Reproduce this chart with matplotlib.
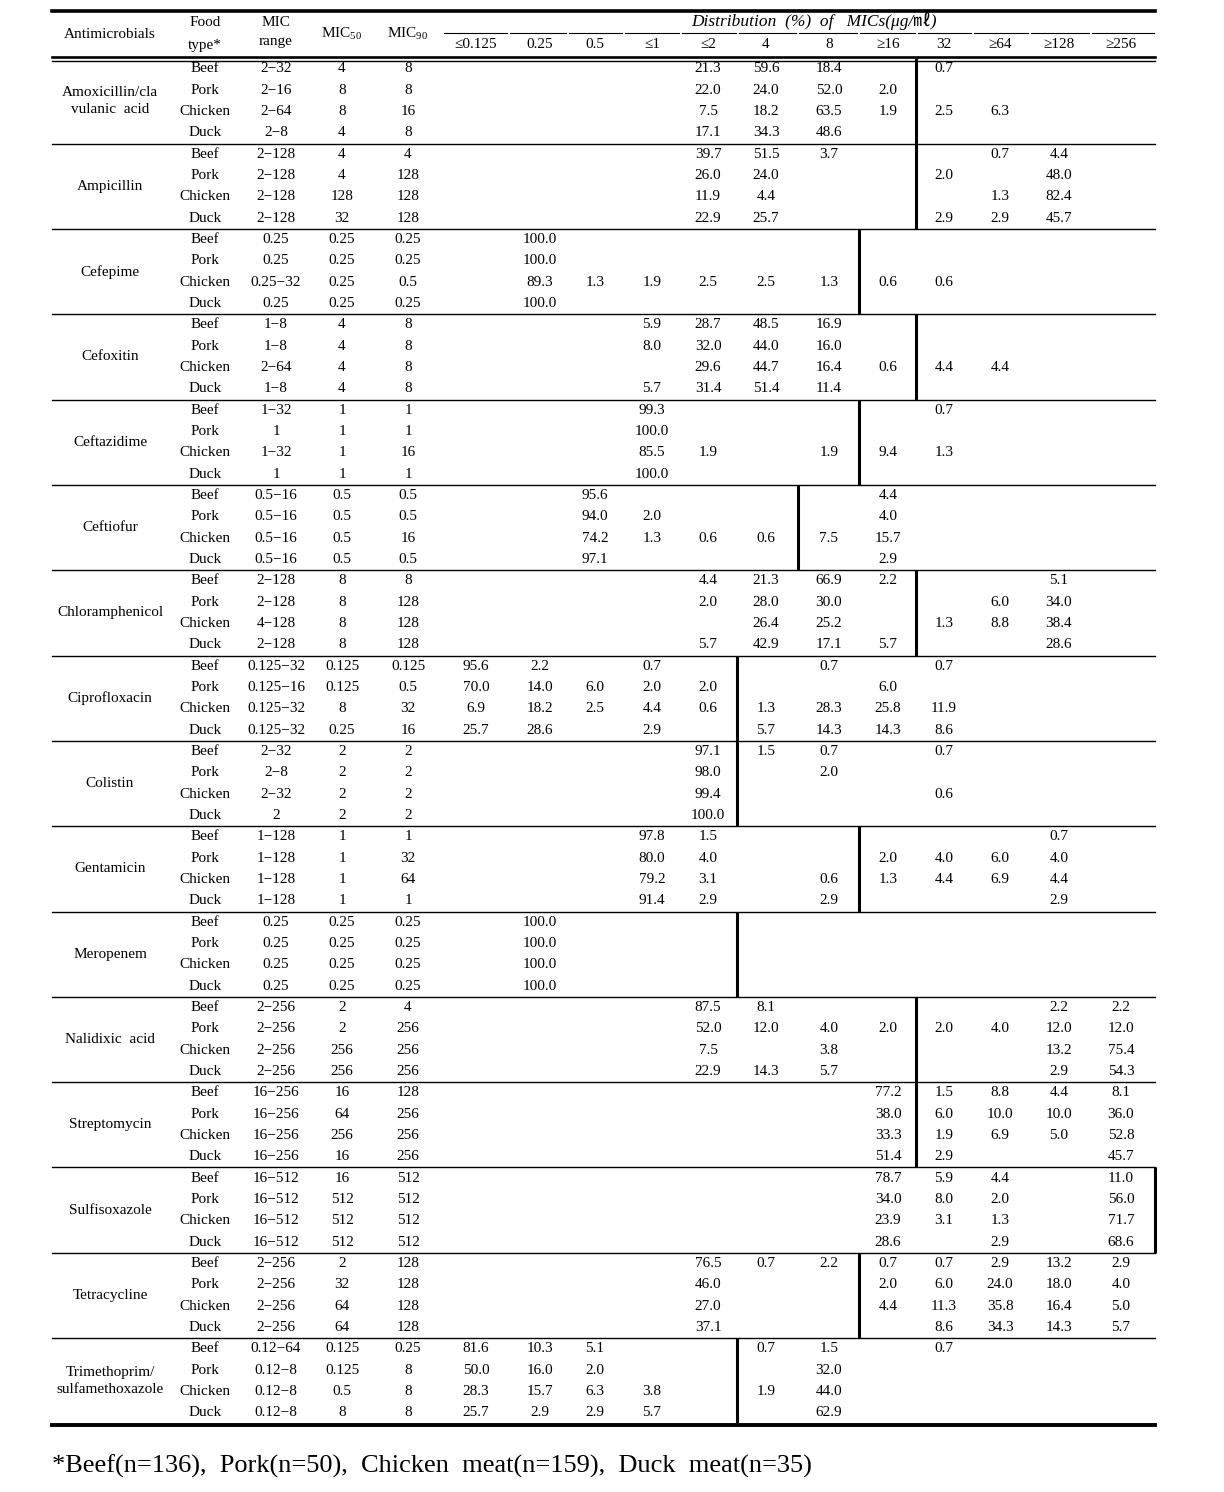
import matplotlib
matplotlib.use("Agg")
import matplotlib.pyplot as plt

plt.rcParams['font.family'] = ['Liberation Serif', 'DejaVu Serif', 'Noto Sans CJK KR']
plt.rcParams['mathtext.fontset'] = 'custom'
plt.rcParams['mathtext.rm'] = 'Liberation Serif'

# ---- data ----
dist_cols = ['≤0.125', '0.25', '0.5', '≤1', '≤2', '4', '8', '≥16', '32', '≥64', '≥128', '≥256']
foods = ['Beef', 'Pork', 'Chicken', 'Duck']

drugs = ['Amoxicillin/cla\nvulanic  acid', 'Ampicillin', 'Cefepime', 'Cefoxitin', 'Ceftazidime',
         'Ceftiofur', 'Chloramphenicol', 'Ciprofloxacin', 'Colistin', 'Gentamicin', 'Meropenem',
         'Nalidixic  acid', 'Streptomycin', 'Sulfisoxazole', 'Tetracycline',
         'Trimethoprim/\nsulfamethoxazole']

mic_range = [
    ['2−32', '2−16', '2−64', '2−8'],
    ['2−128', '2−128', '2−128', '2−128'],
    ['0.25', '0.25', '0.25−32', '0.25'],
    ['1−8', '1−8', '2−64', '1−8'],
    ['1−32', '1', '1−32', '1'],
    ['0.5−16', '0.5−16', '0.5−16', '0.5−16'],
    ['2−128', '2−128', '4−128', '2−128'],
    ['0.125−32', '0.125−16', '0.125−32', '0.125−32'],
    ['2−32', '2−8', '2−32', '2'],
    ['1−128', '1−128', '1−128', '1−128'],
    ['0.25', '0.25', '0.25', '0.25'],
    ['2−256', '2−256', '2−256', '2−256'],
    ['16−256', '16−256', '16−256', '16−256'],
    ['16−512', '16−512', '16−512', '16−512'],
    ['2−256', '2−256', '2−256', '2−256'],
    ['0.12−64', '0.12−8', '0.12−8', '0.12−8'],
]
mic50 = [
    ['4', '8', '8', '4'], ['4', '4', '128', '32'], ['0.25', '0.25', '0.25', '0.25'],
    ['4', '4', '4', '4'], ['1', '1', '1', '1'], ['0.5', '0.5', '0.5', '0.5'],
    ['8', '8', '8', '8'], ['0.125', '0.125', '8', '0.25'], ['2', '2', '2', '2'],
    ['1', '1', '1', '1'], ['0.25', '0.25', '0.25', '0.25'], ['2', '2', '256', '256'],
    ['16', '64', '256', '16'], ['16', '512', '512', '512'], ['2', '32', '64', '64'],
    ['0.125', '0.125', '0.5', '8'],
]
mic90 = [
    ['8', '8', '16', '8'], ['4', '128', '128', '128'], ['0.25', '0.25', '0.5', '0.25'],
    ['8', '8', '8', '8'], ['1', '1', '16', '1'], ['0.5', '0.5', '16', '0.5'],
    ['8', '128', '128', '128'], ['0.125', '0.5', '32', '16'], ['2', '2', '2', '2'],
    ['1', '32', '64', '1'], ['0.25', '0.25', '0.25', '0.25'], ['4', '256', '256', '256'],
    ['128', '256', '256', '256'], ['512', '512', '512', '512'], ['128', '128', '128', '128'],
    ['0.25', '8', '8', '8'],
]

# distribution rows, 12 columns each ('' = empty)
dist = [
    [['', '', '', '', '21.3', '59.6', '18.4', '', '0.7', '', '', ''],
     ['', '', '', '', '22.0', '24.0', '52.0', '2.0', '', '', '', ''],
     ['', '', '', '', '7.5', '18.2', '63.5', '1.9', '2.5', '6.3', '', ''],
     ['', '', '', '', '17.1', '34.3', '48.6', '', '', '', '', '']],
    [['', '', '', '', '39.7', '51.5', '3.7', '', '', '0.7', '4.4', ''],
     ['', '', '', '', '26.0', '24.0', '', '', '2.0', '', '48.0', ''],
     ['', '', '', '', '11.9', '4.4', '', '', '', '1.3', '82.4', ''],
     ['', '', '', '', '22.9', '25.7', '', '', '2.9', '2.9', '45.7', '']],
    [['', '100.0', '', '', '', '', '', '', '', '', '', ''],
     ['', '100.0', '', '', '', '', '', '', '', '', '', ''],
     ['', '89.3', '1.3', '1.9', '2.5', '2.5', '1.3', '0.6', '0.6', '', '', ''],
     ['', '100.0', '', '', '', '', '', '', '', '', '', '']],
    [['', '', '', '5.9', '28.7', '48.5', '16.9', '', '', '', '', ''],
     ['', '', '', '8.0', '32.0', '44.0', '16.0', '', '', '', '', ''],
     ['', '', '', '', '29.6', '44.7', '16.4', '0.6', '4.4', '4.4', '', ''],
     ['', '', '', '5.7', '31.4', '51.4', '11.4', '', '', '', '', '']],
    [['', '', '', '99.3', '', '', '', '', '0.7', '', '', ''],
     ['', '', '', '100.0', '', '', '', '', '', '', '', ''],
     ['', '', '', '85.5', '1.9', '', '1.9', '9.4', '1.3', '', '', ''],
     ['', '', '', '100.0', '', '', '', '', '', '', '', '']],
    [['', '', '95.6', '', '', '', '', '4.4', '', '', '', ''],
     ['', '', '94.0', '2.0', '', '', '', '4.0', '', '', '', ''],
     ['', '', '74.2', '1.3', '0.6', '0.6', '7.5', '15.7', '', '', '', ''],
     ['', '', '97.1', '', '', '', '', '2.9', '', '', '', '']],
    [['', '', '', '', '4.4', '21.3', '66.9', '2.2', '', '', '5.1', ''],
     ['', '', '', '', '2.0', '28.0', '30.0', '', '', '6.0', '34.0', ''],
     ['', '', '', '', '', '26.4', '25.2', '', '1.3', '8.8', '38.4', ''],
     ['', '', '', '', '5.7', '42.9', '17.1', '5.7', '', '', '28.6', '']],
    [['95.6', '2.2', '', '0.7', '', '', '0.7', '', '0.7', '', '', ''],
     ['70.0', '14.0', '6.0', '2.0', '2.0', '', '', '6.0', '', '', '', ''],
     ['6.9', '18.2', '2.5', '4.4', '0.6', '1.3', '28.3', '25.8', '11.9', '', '', ''],
     ['25.7', '28.6', '', '2.9', '', '5.7', '14.3', '14.3', '8.6', '', '', '']],
    [['', '', '', '', '97.1', '1.5', '0.7', '', '0.7', '', '', ''],
     ['', '', '', '', '98.0', '', '2.0', '', '', '', '', ''],
     ['', '', '', '', '99.4', '', '', '', '0.6', '', '', ''],
     ['', '', '', '', '100.0', '', '', '', '', '', '', '']],
    [['', '', '', '97.8', '1.5', '', '', '', '', '', '0.7', ''],
     ['', '', '', '80.0', '4.0', '', '', '2.0', '4.0', '6.0', '4.0', ''],
     ['', '', '', '79.2', '3.1', '', '0.6', '1.3', '4.4', '6.9', '4.4', ''],
     ['', '', '', '91.4', '2.9', '', '2.9', '', '', '', '2.9', '']],
    [['', '100.0', '', '', '', '', '', '', '', '', '', ''],
     ['', '100.0', '', '', '', '', '', '', '', '', '', ''],
     ['', '100.0', '', '', '', '', '', '', '', '', '', ''],
     ['', '100.0', '', '', '', '', '', '', '', '', '', '']],
    [['', '', '', '', '87.5', '8.1', '', '', '', '', '2.2', '2.2'],
     ['', '', '', '', '52.0', '12.0', '4.0', '2.0', '2.0', '4.0', '12.0', '12.0'],
     ['', '', '', '', '7.5', '', '3.8', '', '', '', '13.2', '75.4'],
     ['', '', '', '', '22.9', '14.3', '5.7', '', '', '', '2.9', '54.3']],
    [['', '', '', '', '', '', '', '77.2', '1.5', '8.8', '4.4', '8.1'],
     ['', '', '', '', '', '', '', '38.0', '6.0', '10.0', '10.0', '36.0'],
     ['', '', '', '', '', '', '', '33.3', '1.9', '6.9', '5.0', '52.8'],
     ['', '', '', '', '', '', '', '51.4', '2.9', '', '', '45.7']],
    [['', '', '', '', '', '', '', '78.7', '5.9', '4.4', '', '11.0'],
     ['', '', '', '', '', '', '', '34.0', '8.0', '2.0', '', '56.0'],
     ['', '', '', '', '', '', '', '23.9', '3.1', '1.3', '', '71.7'],
     ['', '', '', '', '', '', '', '28.6', '', '2.9', '', '68.6']],
    [['', '', '', '', '76.5', '0.7', '2.2', '0.7', '0.7', '2.9', '13.2', '2.9'],
     ['', '', '', '', '46.0', '', '', '2.0', '6.0', '24.0', '18.0', '4.0'],
     ['', '', '', '', '27.0', '', '', '4.4', '11.3', '35.8', '16.4', '5.0'],
     ['', '', '', '', '37.1', '', '', '', '8.6', '34.3', '14.3', '5.7']],
    [['81.6', '10.3', '5.1', '', '', '0.7', '1.5', '', '0.7', '', '', ''],
     ['50.0', '16.0', '2.0', '', '', '', '32.0', '', '', '', '', ''],
     ['28.3', '15.7', '6.3', '3.8', '', '1.9', '44.0', '', '', '', '', ''],
     ['25.7', '2.9', '2.9', '5.7', '', '', '62.9', '', '', '', '', '']],
]

# breakpoint line: index of last column left of the thick line
breakpoint_after = [7, 7, 6, 7, 6, 5, 7, 4, 4, 6, 4, 7, 7, 11, 6, 4]

footnote = '*Beef(n=136),  Pork(n=50),  Chicken  meat(n=159),  Duck  meat(n=35)'

# ---- layout (pixel coords) ----
W, H = 1224, 1492
left, right = 52, 1155
x_drug, x_food, x_range, x_m50, x_m90 = 110, 205, 276, 342, 408
x_dist = [476, 540, 595, 652, 708, 766, 829, 888, 944, 1000, 1059, 1121]
row0, dy = 69, 21.33
fs = 11

fig = plt.figure(figsize=(W / 100, H / 100), dpi=100)
ax = fig.add_axes([0, 0, 1, 1])
ax.set_xlim(0, W)
ax.set_ylim(H, 0)
ax.axis('off')

def txt(x, y, s, **kw):
    kw.setdefault('fontsize', fs)
    ax.text(x, y, s, ha='center', va='center', **kw)

# header
ax.plot([left, right], [11, 11], color='black', lw=2.6)
txt(x_drug, 34, 'Antimicrobials')
txt(x_food, 22, 'Food')
txt(x_food, 45, 'type*')
txt(x_range, 23, 'MIC')
txt(x_range, 42, 'range')
txt(x_m50, 34, r'MIC$_{\mathrm{50}}$')
txt(x_m90, 34, r'MIC$_{\mathrm{90}}$')
ax.text(814, 21, 'Distribution  (%)  of   MICs(μg/㎖)', ha='center', va='center',
        fontsize=12.5, style='italic', family=['Liberation Serif', 'Noto Sans CJK KR'])

bounds = [442] + [(x_dist[i] + x_dist[i + 1]) / 2 for i in range(len(x_dist) - 1)] + [right]
for i in range(len(x_dist)):
    ax.plot([bounds[i] + 1.5, bounds[i + 1] - 1.5], [33, 33], color='black', lw=0.8)
    txt(x_dist[i], 45, dist_cols[i], family=['Liberation Serif', 'DejaVu Serif'])

ax.plot([left, right], [57, 57], color='black', lw=1.9)
ax.plot([left, right], [60.5, 60.5], color='black', lw=1.0)

# body
for g, drug in enumerate(drugs):
    base = 4 * g
    top = row0 + (base - 0.5) * dy
    bot = row0 + (base + 3.5) * dy
    txt(x_drug, row0 + (base + 1.5) * dy, drug, linespacing=1.4)
    for r in range(4):
        y = row0 + (base + r) * dy
        txt(x_food, y, foods[r])
        txt(x_range, y, mic_range[g][r])
        txt(x_m50, y, mic50[g][r])
        txt(x_m90, y, mic90[g][r])
        for c, v in enumerate(dist[g][r]):
            if v:
                txt(x_dist[c], y, v)
    if g > 0:
        ax.plot([left, right], [top, top], color='black', lw=1.0)
    xb = bounds[breakpoint_after[g] + 1]
    ax.plot([xb, xb], [top, bot], color='black', lw=2.2, solid_capstyle='butt')

last = row0 + (4 * len(drugs) - 0.5) * dy
ax.plot([left, right], [last + 1.5, last + 1.5], color='black', lw=2.8)

ax.text(left, 1466, footnote, ha='left', va='center', fontsize=19)

fig.savefig('out.png', dpi=100)
